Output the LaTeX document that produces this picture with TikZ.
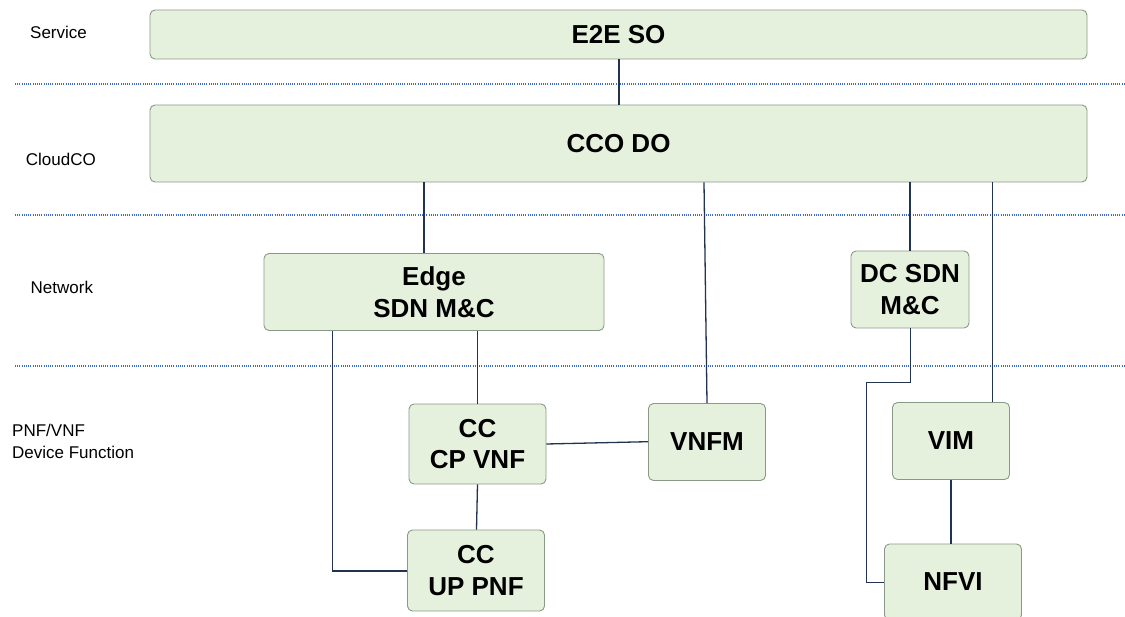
\documentclass[tikz,border=0pt]{standalone}
\usepackage{fontspec}
\setmainfont{Liberation Sans}
\definecolor{boxfill}{HTML}{E6F1DD}
\definecolor{boxline}{HTML}{889A86}
\definecolor{wire}{HTML}{223350}
\definecolor{sep}{HTML}{3F6DB8}
\tikzset{
  blk/.style={draw=boxline, fill=boxfill, line width=0.9pt, rounded corners=5pt,
    inner sep=0pt, align=center, font=\fontsize{26}{31.5}\selectfont\bfseries},
  layer/.style={anchor=west, align=left, inner sep=0pt, font=\fontsize{17}{21.5}\selectfont},
  link/.style={draw=wire, line width=1.3pt},
  divider/.style={draw=sep, line width=1.4pt, dash pattern=on 1pt off 1.2pt}
}
\begin{document}
\begin{tikzpicture}[x=1pt,y=-1pt]
\useasboundingbox (0,0) rectangle (1125,617);

% layer separators
\path[divider] (15,84) -- (1125,84);
\path[divider] (15,215) -- (1125,215);
\path[divider] (15,366) -- (1125,366);

% layer captions
\node[layer] (lsvc) at (30,32) {Service};
\node[layer] (lcco) at (25.7,159) {CloudCO};
\node[layer] (lnet) at (30.5,287) {Network};
\node[layer] (lpnf) at (12,441.5) {PNF/VNF\\Device Function};

% blocks
\node[blk, minimum width=937pt, minimum height=49pt] (e2e) at (618.5,34.5) {E2E SO};
\node[blk, minimum width=937pt, minimum height=77pt] (cco) at (618.5,143.5) {CCO DO};
\node[blk, minimum width=340pt, minimum height=77pt] (edge) at (434,292) {Edge\\SDN M\&C};
\node[blk, minimum width=118pt, minimum height=77pt] (dc) at (910,289.5) {DC SDN\\M\&C};
\node[blk, minimum width=137pt, minimum height=80pt] (cp) at (477.5,444) {CC\\CP VNF};
\node[blk, minimum width=117pt, minimum height=77pt] (vnfm) at (707,442) {VNFM};
\node[blk, minimum width=137pt, minimum height=81pt] (up) at (476,570.5) {CC\\UP PNF};
\node[blk, minimum width=117pt, minimum height=77pt] (vim) at (951,441) {VIM};
\node[blk, minimum width=137pt, minimum height=76pt] (nfvi) at (953,582) {NFVI};

% connectors
\coordinate (dcbend) at (866.7,382.7);
\path[link] (e2e.south -| 619,0) -- (cco.north -| 619,0);
\path[link] (cco.south -| 424,0) -- (edge.north -| 424,0);
\path[link] (cco.south -| 704,0) -- (vnfm.north -| 707,0);
\path[link] (cco.south -| 910,0) -- (dc.north -| 910,0);
\path[link] (cco.south -| 992.5,0) -- (vim.north -| 992.5,0);
\path[link] (edge.south -| 477.5,0) -- (cp.north -| 477.5,0);
\path[link] (edge.south -| 332.5,0) |- (up.west |- 0,571);
\path[link] (cp.east |- 0,444) -- (vnfm.west |- 0,441.7);
\path[link] (cp.south -| 477.5,0) -- (up.north -| 476.5,0);
\path[link] (dc.south -| 910.3,0) |- (dcbend) |- (nfvi.west |- 0,582.3);
\path[link] (vim.south -| 951,0) -- (nfvi.north -| 951,0);
\end{tikzpicture}
\end{document}
